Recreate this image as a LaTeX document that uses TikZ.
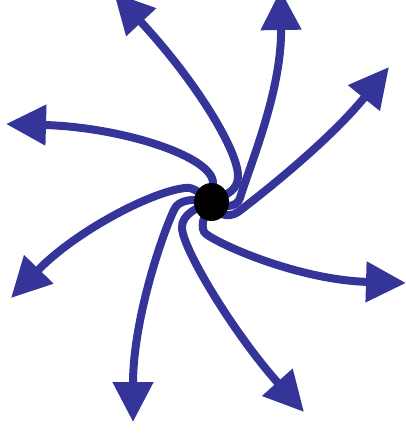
\documentclass[tikz,border=0pt]{standalone}
\usetikzlibrary{arrows.meta,shapes.geometric}
\definecolor{spiral}{RGB}{53,53,153}
\begin{document}
\begin{tikzpicture}[x=1pt,y=-1pt,
  ray/.style={draw=spiral, line width=8pt, line cap=round, -{Triangle[length=40pt,width=39pt]}},
  hub/.style={ellipse, fill=black, minimum width=35pt, minimum height=38pt, inner sep=0pt}]
\useasboundingbox (0,0) rectangle (406,439);
\clip (0,0) rectangle (406,439);
\coordinate (o) at (211.5,202);
\coordinate (tA) at (114,-7);
\coordinate (tB) at (280.5,-10);
\coordinate (tC) at (389,67);
\coordinate (tD) at (406,283);
\coordinate (tE) at (304,412);
\coordinate (tF) at (133,422);
\coordinate (tG) at (11,298);
\coordinate (tH) at (6,124);
% A
\draw[ray] (o) .. controls (228,194) and (238,190) .. (238,176)
  .. controls (238,150) and (195,80) .. (tA);
% B
\draw[ray] (o) .. controls (222,208) and (237,208) .. (240,198)
  .. controls (250,165) and (282,90) .. (tB);
% C
\draw[ray] (o) .. controls (214,214) and (228,219) .. (238,212)
  .. controls (262,194) and (330,140) .. (tC);
% D
\draw[ray] (o) .. controls (203,215) and (199.6,229.2) .. (206,234)
  .. controls (222,246) and (300,280) .. (tD);
% E
\draw[ray] (o) .. controls (200,206) and (181,214) .. (182,228)
  .. controls (183,250) and (235,335) .. (tE);
% F
\draw[ray] (o) .. controls (196,198) and (178,199) .. (174,210)
  .. controls (162,235) and (133,320) .. (tF);
% G
\draw[ray] (o) .. controls (200,193) and (192.8,186.4) .. (185,188)
  .. controls (150,192) and (75,232) .. (tG);
% H
\draw[ray] (o) .. controls (213,195) and (213,190) .. (213,183)
  .. controls (213,156) and (120,127) .. (tH);
\node[hub] (dot) at (o) {};
\end{tikzpicture}
\end{document}
